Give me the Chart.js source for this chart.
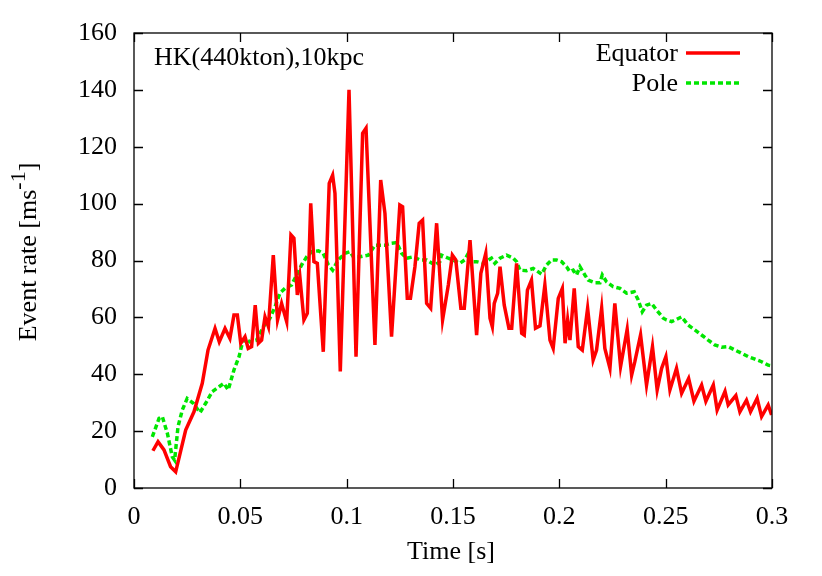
<!DOCTYPE html>
<html lang="en">
<head>
<meta charset="UTF-8">
<title>Event rate</title>
<script src="https://cdn.jsdelivr.net/npm/chart.js"></script>
<style>
    body { margin: 0; background: #fff; }
    #wrap { width: 822px; height: 576px; }
</style>
</head>
<body>
<div id="wrap"><canvas id="myChart" width="822" height="576"></canvas></div>
<script>
// Equator (red, solid) - time in seconds, rate in ms^-1
const equatorTime = [
    0.0089, 0.0113, 0.0141, 0.0172, 0.0196, 0.0243, 0.0282, 0.0321, 0.0348, 0.0381,
    0.0401, 0.0428, 0.0451, 0.0470, 0.0486, 0.0502, 0.0522, 0.0537, 0.0553, 0.0570,
    0.0585, 0.0600, 0.0616, 0.0632, 0.0655, 0.0675, 0.0694, 0.0718, 0.0738, 0.0752,
    0.0768, 0.0780, 0.0799, 0.0815, 0.0831, 0.0846, 0.0862, 0.0890, 0.0918, 0.0934,
    0.0945, 0.0970, 0.1011, 0.1044, 0.1075, 0.1091, 0.1133, 0.1160, 0.1180, 0.1211,
    0.1250, 0.1263, 0.1285, 0.1300, 0.1321, 0.1341, 0.1357, 0.1376, 0.1395, 0.1423,
    0.1451, 0.1478, 0.1497, 0.1513, 0.1537, 0.1553, 0.1580, 0.1611, 0.1631, 0.1654,
    0.1674, 0.1685, 0.1694, 0.1710, 0.1721, 0.1741, 0.1763, 0.1776, 0.1799, 0.1823,
    0.1835, 0.1850, 0.1869, 0.1888, 0.1909, 0.1932, 0.1956, 0.1971, 0.1995, 0.2014,
    0.2027, 0.2039, 0.2050, 0.2070, 0.2089, 0.2108, 0.2133, 0.2159, 0.2175, 0.2199,
    0.2214, 0.2238, 0.2261, 0.2288, 0.2319, 0.2340, 0.2355, 0.2382, 0.2410, 0.2438,
    0.2460, 0.2481, 0.2501, 0.2520, 0.2551, 0.2575, 0.2608, 0.2633, 0.2669, 0.2689,
    0.2724, 0.2742, 0.2779, 0.2794, 0.2830, 0.2849, 0.2880, 0.2899, 0.2930, 0.2951,
    0.2982, 0.2998
];
const equatorRate = [
    13.1, 16.3, 13.4, 7.5, 5.7, 20.4, 26.8, 36.8, 48.5, 56.1,
    51.4, 56.1, 52.6, 60.8, 60.8, 50.9, 53.2, 49.1, 49.7, 64.3,
    50.9, 52.0, 60.2, 56.7, 81.9, 59.1, 64.9, 58.5, 89.0, 87.8,
    67.9, 74.3, 59.1, 61.4, 100.1, 79.6, 79.0, 47.9, 107.1, 110.0,
    103.6, 41.0, 140.0, 46.2, 124.7, 126.5, 50.3, 108.3, 96.6, 53.2,
    99.5, 98.9, 66.7, 66.7, 77.8, 93.1, 94.2, 64.9, 63.2, 93.1,
    59.1, 71.4, 81.9, 80.2, 63.2, 63.2, 87.2, 53.8, 75.5, 82.5,
    59.7, 56.7, 64.9, 68.5, 77.8, 64.3, 56.2, 56.2, 79.0, 54.4,
    53.8, 69.6, 73.1, 56.2, 57.0, 71.4, 52.0, 49.1, 66.7, 70.2,
    50.9, 59.1, 52.0, 70.2, 49.7, 48.5, 63.2, 45.0, 48.5, 63.2,
    49.1, 42.1, 64.9, 42.7, 55.8, 39.7, 44.4, 53.8, 36.2, 49.7,
    34.5, 42.1, 46.2, 34.5, 42.1, 33.3, 38.5, 30.5, 36.2, 30.5,
    36.2, 27.4, 34.0, 29.2, 32.5, 26.8, 30.9, 26.8, 31.5, 25.1,
    29.2, 25.7
];

// Pole (green, dashed)
const poleTime = [
    0.0086, 0.0118, 0.0133, 0.0157, 0.0180, 0.0191, 0.0207, 0.0227, 0.0250, 0.0279,
    0.0310, 0.0337, 0.0368, 0.0400, 0.0423, 0.0443, 0.0470, 0.0494, 0.0509, 0.0522,
    0.0545, 0.0577, 0.0608, 0.0639, 0.0663, 0.0686, 0.0710, 0.0741, 0.0765, 0.0788,
    0.0812, 0.0835, 0.0867, 0.0890, 0.0914, 0.0934, 0.0960, 0.0992, 0.1016, 0.1031,
    0.1063, 0.1102, 0.1133, 0.1180, 0.1204, 0.1235, 0.1259, 0.1282, 0.1313, 0.1345,
    0.1376, 0.1415, 0.1438, 0.1446, 0.1478, 0.1493, 0.1532, 0.1555, 0.1572, 0.1584,
    0.1611, 0.1642, 0.1681, 0.1697, 0.1721, 0.1752, 0.1783, 0.1799, 0.1815, 0.1846,
    0.1877, 0.1917, 0.1940, 0.1964, 0.1987, 0.2010, 0.2034, 0.2049, 0.2065, 0.2081,
    0.2097, 0.2120, 0.2136, 0.2167, 0.2191, 0.2202, 0.2222, 0.2253, 0.2285, 0.2316,
    0.2352, 0.2371, 0.2390, 0.2410, 0.2434, 0.2457, 0.2489, 0.2504, 0.2528, 0.2551,
    0.2575, 0.2606, 0.2637, 0.2669, 0.2700, 0.2731, 0.2763, 0.2794, 0.2826, 0.2857,
    0.2888, 0.2920, 0.2951, 0.2982, 0.3000
];
const poleRate = [
    18.0, 24.5, 25.1, 19.2, 11.0, 9.8, 21.6, 27.4, 31.5, 29.8,
    26.5, 29.8, 33.9, 35.6, 36.8, 34.5, 41.5, 46.2, 50.9, 52.6,
    51.4, 52.0, 56.7, 59.7, 63.7, 68.5, 70.2, 71.4, 74.9, 78.4,
    81.3, 83.1, 83.4, 82.5, 78.4, 76.6, 80.2, 82.5, 83.1, 81.3,
    81.3, 81.9, 85.4, 85.4, 86.0, 86.3, 82.5, 80.8, 81.3, 80.2,
    80.2, 78.4, 79.6, 81.9, 80.8, 80.4, 79.0, 80.2, 82.5, 79.6,
    79.6, 79.0, 80.8, 79.0, 80.8, 81.9, 80.8, 79.6, 76.6, 76.4,
    77.2, 75.2, 78.4, 80.2, 80.2, 79.6, 77.8, 76.1, 76.6, 74.9,
    77.8, 74.9, 73.1, 72.2, 72.2, 74.9, 72.5, 70.8, 70.2, 68.5,
    69.0, 66.1, 62.0, 64.3, 64.9, 62.6, 59.7, 59.1, 58.5, 59.3,
    60.2, 57.3, 55.6, 53.8, 52.0, 50.3, 49.5, 49.7, 48.5, 47.4,
    46.2, 45.3, 44.4, 43.2, 43.0
];

const xTicks = [0, 0.05, 0.1, 0.15, 0.2, 0.25, 0.3];
const yTicks = [0, 20, 40, 60, 80, 100, 120, 140, 160];
const seriesNames = ['Equator', 'Pole'];
const plotLabel = 'HK(440kton),10kpc';

const serif = "'Liberation Serif', 'DejaVu Serif', serif";
const fontPx = 26;

// gnuplot style frame: box, inward ticks on all sides, legend and labels
const gnuplotFrame = {
    id: 'gnuplotFrame',
    afterDraw(chart) {
        const ctx = chart.ctx;
        const { left, right, top, bottom } = chart.chartArea;
        const xs = chart.scales.x, ys = chart.scales.y;
        ctx.save();
        ctx.strokeStyle = '#000';
        ctx.lineWidth = 1.3;
        ctx.strokeRect(left, top, right - left, bottom - top);
        ctx.beginPath();
        xTicks.forEach(v => {
            const px = Math.round(xs.getPixelForValue(v)) + 0.5;
            ctx.moveTo(px, bottom); ctx.lineTo(px, bottom - 9);
            ctx.moveTo(px, top); ctx.lineTo(px, top + 9);
        });
        yTicks.forEach(v => {
            const py = Math.round(ys.getPixelForValue(v)) + 0.5;
            ctx.moveTo(left, py); ctx.lineTo(left + 9, py);
            ctx.moveTo(right, py); ctx.lineTo(right - 9, py);
        });
        ctx.stroke();

        // legend: text right-aligned, sample line after it
        ctx.font = fontPx + 'px ' + serif;
        ctx.fillStyle = '#000';
        ctx.textBaseline = 'middle';
        chart.data.datasets.forEach((ds, i) => {
            const y = top + 20 + i * 30;
            ctx.textAlign = 'right';
            ctx.fillText(ds.label, right - 94, y + 1);
            ctx.strokeStyle = ds.borderColor;
            ctx.lineWidth = ds.borderWidth;
            ctx.setLineDash(ds.borderDash || []);
            ctx.beginPath();
            ctx.moveTo(right - 86, y);
            ctx.lineTo(right - 32, y);
            ctx.stroke();
            ctx.setLineDash([]);
        });

        // label in plot
        ctx.textAlign = 'left';
        ctx.fillText(plotLabel, left + 20, top + 25);

        // x title
        ctx.textAlign = 'center';
        ctx.fillText('Time [s]', (left + right) / 2 - 2, 552);

        // y title with superscript
        ctx.translate(29, 252);
        ctx.rotate(-Math.PI / 2);
        const a = 'Event rate [ms', sup = '-1', b = ']';
        ctx.font = fontPx + 'px ' + serif;
        const wa = ctx.measureText(a).width;
        const wb = ctx.measureText(b).width;
        ctx.font = (fontPx - 4) + 'px ' + serif;
        const ws = ctx.measureText(sup).width;
        const total = wa + ws + wb;
        ctx.textAlign = 'left';
        ctx.font = fontPx + 'px ' + serif;
        ctx.fillText(a, -total / 2, 0);
        ctx.font = (fontPx - 4) + 'px ' + serif;
        ctx.fillText(sup, -total / 2 + wa, -10);
        ctx.font = fontPx + 'px ' + serif;
        ctx.fillText(b, -total / 2 + wa + ws, 0);
        ctx.restore();
    }
};

const toPoints = (ts, vs) => ts.map((t, i) => ({ x: t, y: vs[i] }));

new Chart(document.getElementById('myChart').getContext('2d'), {
    type: 'line',
    data: {
        datasets: [{
            label: seriesNames[0],
            data: toPoints(equatorTime, equatorRate),
            borderColor: 'rgb(255, 0, 0)',
            borderWidth: 3.5,
            pointRadius: 0,
            tension: 0,
            fill: false
        }, {
            label: seriesNames[1],
            data: toPoints(poleTime, poleRate),
            borderColor: 'rgb(0, 230, 0)',
            borderWidth: 3.5,
            borderDash: [5, 3],
            pointRadius: 0,
            tension: 0,
            fill: false
        }]
    },
    options: {
        responsive: false,
        animation: false,
        layout: { padding: { left: 0, top: 33, right: 50, bottom: 0 } },
        plugins: { legend: { display: false }, tooltip: { enabled: false } },
        scales: {
            x: {
                type: 'linear',
                min: 0,
                max: 0.3,
                afterBuildTicks: s => { s.ticks = xTicks.map(v => ({ value: v })); },
                afterFit: s => { s.height = 88; },
                grid: { display: false },
                border: { display: false },
                ticks: {
                    padding: 6,
                    color: '#000',
                    font: { family: serif, size: fontPx },
                    maxRotation: 0,
                    callback: v => String(parseFloat(v.toFixed(2)))
                }
            },
            y: {
                min: 0,
                max: 160,
                afterBuildTicks: s => { s.ticks = yTicks.map(v => ({ value: v })); },
                afterFit: s => { s.width = 134; },
                grid: { display: false },
                border: { display: false },
                ticks: {
                    padding: 9,
                    color: '#000',
                    font: { family: serif, size: fontPx }
                }
            }
        }
    },
    plugins: [gnuplotFrame]
});
</script>
</body>
</html>
